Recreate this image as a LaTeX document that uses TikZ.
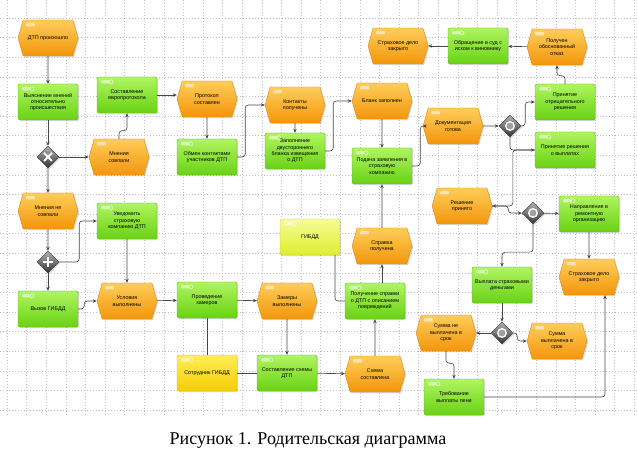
\documentclass[tikz,border=0pt]{standalone}
\usepackage{fontspec}
\setmainfont{Liberation Serif}
\newfontfamily\arisface{Liberation Sans}
\usetikzlibrary{arrows.meta, shapes.symbols, shapes.geometric, shadows}

\newcommand{\arisfont}{\arisface\fontsize{5.4}{6.4}\selectfont}

\definecolor{evtop}{RGB}{255,205,90}
\definecolor{evbot}{RGB}{243,150,10}
\definecolor{evline}{RGB}{222,140,25}
\definecolor{fntop}{RGB}{175,245,95}
\definecolor{fnbot}{RGB}{105,210,20}
\definecolor{fnline}{RGB}{95,180,40}
\definecolor{rltop}{RGB}{255,238,90}
\definecolor{rlbot}{RGB}{245,205,0}
\definecolor{rlline}{RGB}{220,180,20}
\definecolor{ortop}{RGB}{245,252,150}
\definecolor{orbot}{RGB}{222,238,45}
\definecolor{orline}{RGB}{200,205,60}
\definecolor{flowgray}{RGB}{70,70,70}

\tikzset{
  boxshadow/.style={drop shadow={opacity=0.3, shadow xshift=1.2pt, shadow yshift=-1.2pt}},
  evicon/.style={path picture={\fill[white, fill opacity=0.55, rounded corners=1pt]
      ([shift={(8pt,-3pt)}]path picture bounding box.north west) rectangle ++(9pt,-3.5pt);}},
  fnicon/.style={path picture={\fill[white, fill opacity=0.55, rounded corners=1pt]
      ([shift={(4pt,-3pt)}]path picture bounding box.north west) rectangle ++(8pt,-3.5pt);
      \draw[white, opacity=0.6, line width=0.8pt]
      ([shift={(14pt,-4.8pt)}]path picture bounding box.north west) circle (2pt);}},
  evt/.style={signal, signal to=east and west, signal pointer angle=148,
    draw=evline, top color=evtop, bottom color=evbot, boxshadow, evicon,
    minimum width=60pt, minimum height=36pt, inner sep=1pt, align=center, font=\arisfont},
  func/.style={rectangle, rounded corners=1.5pt, draw=fnline, top color=fntop, bottom color=fnbot,
    boxshadow, fnicon, minimum width=60pt, minimum height=36pt, inner sep=1pt,
    align=center, font=\arisfont},
  role/.style={func, draw=rlline, top color=rltop, bottom color=rlbot},
  orgunit/.style={func, draw=orline, top color=ortop, bottom color=orbot},
  gate/.style={diamond, minimum width=22pt, minimum height=22pt, inner sep=0pt,
    draw=gray!35!black, top color=gray!60, bottom color=black!80, boxshadow},
  xorgate/.style={gate, path picture={\draw[white, line width=2pt]
      ([shift={(-4pt,-4pt)}]path picture bounding box.center) -- ++(8pt,8pt)
      ([shift={(-4pt,4pt)}]path picture bounding box.center) -- ++(8pt,-8pt);}},
  andgate/.style={gate, path picture={\draw[white, line width=2pt]
      ([shift={(-5pt,0pt)}]path picture bounding box.center) -- ++(10pt,0pt)
      ([shift={(0pt,5pt)}]path picture bounding box.center) -- ++(0pt,-10pt);}},
  orgate/.style={gate, path picture={\draw[white, line width=1.3pt, fill=gray!75]
      (path picture bounding box.center) circle (4.3pt);}},
  flow/.style={draw=flowgray, line width=0.6pt, rounded corners=3pt,
    -{Stealth[length=4pt, width=3.4pt]}},
  link/.style={draw=flowgray, line width=0.6pt, rounded corners=3pt},
  gridline/.style={gray!50, line width=0.4pt, dash pattern=on 0.6pt off 2.4pt},
}

\begin{document}
\begin{tikzpicture}[x=1pt, y=-1pt]
  \useasboundingbox (0,0) rectangle (637,462);

  % background grid
  \foreach \gx in {7,26.6,...,637} \draw[gridline] (\gx,0) -- (\gx,415);
  \foreach \gy in {18,37.6,...,415} \draw[gridline] (0,\gy) -- (637,\gy);

  % left column: the accident and the opinions
  \node[evt] (dtp) at (48,38) {ДТП произошло};
  \node[func] (clarify) at (48,102) {Выяснение мнений\\относительно\\происшествия};
  \node[xorgate] (xor1) at (48,157) {};
  \node[evt] (agreed) at (119,157) {Мнения\\совпали};
  \node[func] (europrot) at (127,95) {Составление\\европротокола};
  \node[evt] (disagreed) at (48,211) {Мнения не\\совпали};
  \node[andgate] (and1) at (48,262) {};
  \node[func] (notify) at (127,221) {Уведомить\\страховую\\компанию ДТП};
  \node[func] (callpolice) at (48,309) {Вызов ГИБДД};
  \node[evt] (condmet) at (127,301) {Условия\\выполнены};

  % european protocol branch
  \node[evt] (protocol) at (207,99) {Протокол\\составлен};
  \node[func] (exchange) at (207,157) {Обмен контактами\\участников ДТП};
  \node[evt] (contacts) at (295,105) {Контакты\\получены};
  \node[func] (formfill) at (295,151) {Заполнение\\двустороннего\\бланка извещения\\о ДТП};
  \node[evt] (formdone) at (382,101) {Бланк заполнен};
  \node[func] (claim) at (382,166) {Подача заявления в\\страховую\\компанию};

  % police branch
  \node[func] (measure) at (207,300) {Проведение\\замеров};
  \node[evt] (measured) at (287,301) {Замеры\\выполнены};
  \node[role] (officer) at (207,373) {Сотрудник ГИБДД};
  \node[func] (sketch) at (287,373) {Составление схемы\\ДТП};
  \node[evt] (sketchdone) at (375,374) {Схема\\составлена};
  \node[func] (certificate) at (375,301) {Получение справки\\о ДТП с описанием\\повреждений};
  \node[evt] (certgot) at (382,246) {Справка\\получена};
  \node[orgunit] (police) at (310,237) {ГИБДД};

  % insurer decision
  \node[evt] (docsready) at (453,126) {Документация\\готова};
  \node[orgate] (or1) at (510,126) {};
  \node[func] (refusal) at (565,102) {Принятие\\отрицательного\\решения};
  \node[func] (payrule) at (565,150) {Принятие решения\\о выплатах};
  \node[evt] (denied) at (557,47) {Получен\\обоснованный\\отказ};
  \node[func] (court) at (478,46) {Обращение в суд с\\иском к виновнику};
  \node[evt] (closedA) at (398,46) {Страховое дело\\закрыто};
  \node[evt] (decided) at (462,206) {Решение\\принято};
  \node[orgate] (or2) at (533,213) {};
  \node[func] (repair) at (589,214) {Направление в\\ремонтную\\организацию};
  \node[evt] (closedB) at (589,277) {Страховое дело\\закрыто};
  \node[func] (payout) at (502,285) {Выплата страховыми\\деньгами};
  \node[orgate] (or3) at (502,333) {};
  \node[evt] (unpaid) at (446,333) {Сумма не\\выплачена в\\срок};
  \node[evt] (paid) at (557,341) {Сумма\\выплачена в\\срок};
  \node[func] (penalty) at (454,397) {Требование\\выплаты пени};

  % connectors
  \draw[flow] (dtp) -- (clarify);
  \draw[flow] (clarify) -- (xor1);
  \draw[flow] (xor1) -- (agreed);
  \draw[flow] (xor1) -- (disagreed);
  \draw[flow] (agreed.north) -- ++(0,-8) -| (europrot.south);
  \draw[flow] (europrot.east) -- (europrot.east -| protocol.west);
  \draw[flow] (protocol) -- (exchange);
  \draw[flow] (exchange.east) -- ++(8,0) |- (contacts.west);
  \draw[flow] (contacts) -- (formfill);
  \draw[flow] (formfill.east) -- ++(8,0) |- (formdone.west);
  \draw[flow] (formdone) -- (claim);
  \draw[flow] (claim.east) -- ++(8,0) |- (docsready.west);
  \draw[flow] (docsready) -- (or1);
  \draw[flow] (or1.east) -- ++(4,0) |- (refusal.west);
  \draw[flow] (or1.south) |- (payrule.west);
  \draw[flow] (refusal.north) -- ++(0,-8) -| (denied.south);
  \draw[flow] (denied) -- (court);
  \draw[flow] (court) -- (closedA);
  \draw[flow] (payrule.west) -- ++(-22,0) |- (decided.east);
  \draw[flow] (decided.east) -- ++(16,0) |- (or2.west);
  \draw[flow] (or2) -- (repair);
  \draw[flow] (repair) -- (closedB);
  \draw[flow] (or2.south) -- ++(0,28) -| (payout.north);
  \draw[flow] (payout) -- (or3);
  \draw[flow] (or3) -- (unpaid);
  \draw[flow] (or3.east) -- ++(4,0) |- (paid.west);
  \draw[flow] (unpaid.south) -- ++(0,12) -| (penalty.north);
  \draw[flow] (penalty.east) -| ([xshift=16pt]closedB.south);

  \draw[flow] (disagreed) -- (and1);
  \draw[flow] (and1.east) -- ++(20,0) |- (notify.west);
  \draw[flow] (and1) -- (callpolice);
  \draw[flow] (notify) -- (condmet);
  \draw[flow] (callpolice.east) -- ++(6,0) |- (condmet.west);
  \draw[flow] (condmet) -- (measure);
  \draw[flow] (measure) -- (measured);
  \draw[link] (officer) -- (measure);
  \draw[link] (officer) -- (sketch);
  \draw[flow] (measured) -- (sketch);
  \draw[flow] (sketch) -- (sketchdone);
  \draw[flow] (sketchdone) -- (certificate);
  \draw[flow] (certgot.south |- certificate.north) -- (certgot.south);
  \draw[link] ([xshift=25pt]police.south) |- (certificate.west);
  \draw[flow] (certgot) -- (claim);

  % caption
  \node[font=\fontsize{18}{21}\selectfont] (caption) at (308,440) {Рисунок 1. Родительская диаграмма};
\end{tikzpicture}
\end{document}
